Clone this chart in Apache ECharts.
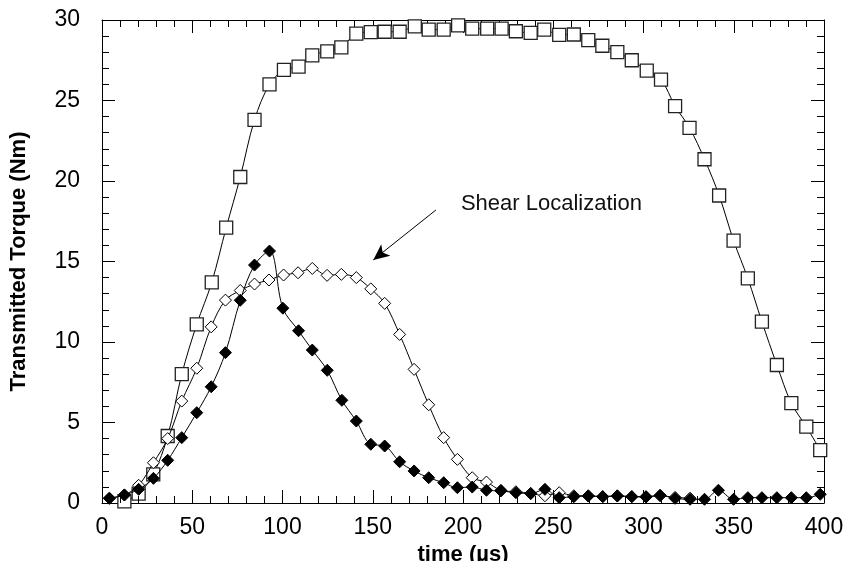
<!DOCTYPE html>
<html>
<head>
<meta charset="utf-8">
<script src="https://cdn.jsdelivr.net/npm/echarts@6/dist/echarts.min.js"></script>
<style>html,body{margin:0;padding:0;background:#fff;}#c{width:848px;height:561px;}</style>
</head>
<body>
<div id="c"></div>
<script>
// open squares
const squareX = [12.4, 20.3, 28.4, 36.4, 44.2, 52.5, 60.8, 68.8, 76.6, 84.5, 92.8, 100.8, 108.9, 116.5, 124.8, 132.6, 140.9, 148.9, 156.6, 164.9, 173.3, 181, 189.3, 197.3, 205.1, 213.4, 221.4, 229.3, 237.5, 245, 253.3, 261.4, 269.4, 277.2, 285.5, 293.5, 301.8, 309.7, 317.5, 325.5, 333.8, 341.9, 349.9, 357.8, 365.6, 373.9, 381.9, 390.2, 397.9];
const squareY = [0.1, 0.58, 1.78, 4.16, 8.0, 11.1, 13.7, 17.1, 20.25, 23.8, 26.0, 26.9, 27.1, 27.8, 28.05, 28.3, 29.15, 29.25, 29.27, 29.27, 29.6, 29.4, 29.4, 29.67, 29.46, 29.46, 29.46, 29.3, 29.2, 29.4, 29.07, 29.1, 28.75, 28.4, 28.0, 27.5, 26.85, 26.3, 24.65, 23.3, 21.35, 19.1, 16.3, 13.95, 11.26, 8.57, 6.2, 4.74, 3.29];
// open diamonds
const openDiaX = [4.1, 12.4, 20.3, 28.5, 36.4, 44.2, 52.5, 60.5, 68.4, 76.6, 84.5, 92.5, 100.6, 108.6, 116.5, 124.7, 132.6, 140.9, 148.9, 156.6, 164.9, 172.9, 181, 189.3, 196.9, 205.1, 213, 221, 229.3, 237.5, 245.4, 253.3, 261.4, 269.4, 277.4, 285.5, 293.5, 301.4, 309.2, 317.5, 325.8];
const openDiaY = [0.3, 0.5, 1.1, 2.5, 4.0, 6.33, 8.37, 10.94, 12.6, 13.2, 13.6, 13.85, 14.16, 14.3, 14.57, 14.14, 14.2, 14.0, 13.3, 12.4, 10.47, 8.3, 6.1, 4.06, 2.71, 1.57, 1.3, 0.79, 0.7, 0.6, 0.45, 0.64, 0.45, 0.45, 0.4, 0.45, 0.4, 0.4, 0.45, 0.35, 0.3];
// filled diamonds
const fillDiaX = [4.1, 12.4, 20.3, 28.5, 36.4, 44.2, 52.5, 60.5, 68.4, 76.6, 84.5, 92.8, 100.2, 108.9, 116.5, 124.8, 132.9, 140.9, 148.9, 156.6, 164.9, 172.9, 181, 189.3, 196.9, 205.1, 213, 221, 229.3, 237.5, 245.4, 253.3, 261.4, 269.4, 277.4, 285.5, 293.5, 301.4, 309.2, 317.5, 325.8, 333.8, 341.5, 349.9, 357.8, 365.6, 373.9, 381.9, 390.2, 397.9];
const fillDiaY = [0.29, 0.5, 0.85, 1.53, 2.65, 4.06, 5.61, 7.22, 9.34, 12.59, 14.78, 15.65, 12.1, 10.7, 9.5, 8.24, 6.38, 5.09, 3.65, 3.54, 2.56, 1.99, 1.57, 1.26, 0.95, 0.99, 0.79, 0.75, 0.64, 0.58, 0.85, 0.33, 0.39, 0.43, 0.39, 0.43, 0.39, 0.37, 0.48, 0.29, 0.23, 0.23, 0.79, 0.23, 0.33, 0.33, 0.33, 0.33, 0.33, 0.54];
// tick labels / annotation
const xTicks = [0, 50, 100, 150, 200, 250, 300, 350, 400];
const yTicks = [0, 5, 10, 15, 20, 25, 30];
const annotationText = 'Shear Localization';
const arrowFrom = [185, 18.2];
const arrowTo = [150.3, 15.1];
const annotationAt = [249, 18.6];

const zip = (xs, ys) => xs.map((x, i) => [x, ys[i]]);
const FONT = "'Liberation Sans', Arial, Helvetica, sans-serif";
const GRID = { left: 102, right: 24, top: 20, bottom: 58 };
const GRID_W = 848 - GRID.left - GRID.right;
const GRID_H = 561 - GRID.top - GRID.bottom;
const X_MAX = 400, Y_MAX = 30, MINOR = 5;
const MAJOR_LEN = 13, MINOR_LEN = 7;

// inside ticks for the bottom and left frame edges, placed through the chart's scales
function frameTicks() {
  const lines = [];
  const yPerPx = Y_MAX / GRID_H, xPerPx = X_MAX / GRID_W;
  for (let i = 0; i < xTicks.length - 1; i++) {
    const step = (xTicks[i + 1] - xTicks[i]) / MINOR;
    for (let k = 0; k < MINOR; k++) {
      const x = xTicks[i] + k * step;
      if (x === 0) continue;
      const len = (k === 0 ? MAJOR_LEN : MINOR_LEN) * yPerPx;
      lines.push([{ coord: [x, 0] }, { coord: [x, len] }]);
    }
  }
  for (let i = 0; i < yTicks.length - 1; i++) {
    const step = (yTicks[i + 1] - yTicks[i]) / MINOR;
    for (let k = 0; k < MINOR; k++) {
      const y = yTicks[i] + k * step;
      if (y === 0) continue;
      const len = (k === 0 ? MAJOR_LEN : MINOR_LEN) * xPerPx;
      lines.push([{ coord: [0, y] }, { coord: [len, y] }]);
    }
  }
  return lines;
}

// axis that only draws the frame line and inside ticks (top / right)
function tickAxis(pos, max, interval) {
  return {
    type: 'value', min: 0, max: max, interval: interval, position: pos,
    axisLine: { show: true, onZero: false, lineStyle: { color: '#000', width: 1 } },
    axisTick: { show: true, inside: true, length: MAJOR_LEN, lineStyle: { color: '#000', width: 1 } },
    minorTick: { show: true, splitNumber: MINOR, length: MINOR_LEN, lineStyle: { color: '#000', width: 1 } },
    splitLine: { show: false },
    axisLabel: { show: false }
  };
}
// axis that draws the labels and title (bottom / left)
function labelAxis(pos, max, interval, extra) {
  return Object.assign({
    type: 'value', min: 0, max: max, interval: interval, position: pos,
    axisLine: { show: true, onZero: false, lineStyle: { color: '#000', width: 1 } },
    axisTick: { show: false },
    minorTick: { show: false },
    splitLine: { show: false }
  }, extra);
}

const chart = echarts.init(document.getElementById('c'));
chart.setOption({
  animation: false,
  grid: Object.assign({ outerBoundsMode: 'none' }, GRID),
  xAxis: [
    labelAxis('bottom', X_MAX, 50, {
      name: 'time (µs)', nameLocation: 'middle', nameGap: 33,
      nameTextStyle: { fontFamily: FONT, fontWeight: 'bold', fontSize: 22, color: '#000' },
      axisLabel: { show: true, margin: 13, fontFamily: FONT, fontSize: 23, color: '#000',
        formatter: v => xTicks.includes(v) ? String(v) : '' }
    }),
    tickAxis('top', X_MAX, 50)
  ],
  yAxis: [
    labelAxis('left', Y_MAX, 5, {
      name: 'Transmitted Torque (Nm)', nameLocation: 'middle', nameGap: 72,
      nameTextStyle: { fontFamily: FONT, fontWeight: 'bold', fontSize: 22, color: '#000' },
      axisLabel: { show: true, margin: 22, fontFamily: FONT, fontSize: 23, color: '#000',
        formatter: v => yTicks.includes(v) ? String(v) : '' }
    }),
    tickAxis('right', Y_MAX, 5)
  ],
  series: [
    {
      type: 'line', xAxisIndex: 0, yAxisIndex: 0, data: zip(squareX, squareY), smooth: 0.35,
      symbol: 'rect', symbolSize: 13,
      lineStyle: { color: '#000', width: 1 },
      itemStyle: { color: '#fff', borderColor: '#222', borderWidth: 1.3 },
      z: 2,
      markLine: {
        silent: true, symbol: 'none', animation: false,
        label: { show: false },
        emphasis: { disabled: true },
        lineStyle: { color: '#000', width: 1, type: 'solid' },
        data: frameTicks()
      }
    },
    {
      type: 'line', xAxisIndex: 0, yAxisIndex: 0, data: zip(openDiaX, openDiaY), smooth: 0.35,
      symbol: 'diamond', symbolSize: 12,
      lineStyle: { color: '#000', width: 1 },
      itemStyle: { color: '#fff', borderColor: '#000', borderWidth: 1 },
      z: 3,
      markLine: {
        silent: true, symbol: ['none', 'arrow'], symbolSize: [11, 16],
        label: { show: false },
        lineStyle: { color: '#000', width: 1, type: 'solid' },
        data: [[{ coord: arrowFrom }, { coord: arrowTo }]]
      },
      markPoint: {
        silent: true, symbol: 'circle', symbolSize: 1,
        itemStyle: { color: 'rgba(0,0,0,0)' },
        label: { show: true, position: 'inside', fontFamily: FONT, fontSize: 22, color: '#111',
          formatter: annotationText },
        data: [{ coord: annotationAt }]
      }
    },
    {
      type: 'line', xAxisIndex: 0, yAxisIndex: 0, data: zip(fillDiaX, fillDiaY), smooth: 0.35,
      symbol: 'diamond', symbolSize: 12,
      lineStyle: { color: '#000', width: 1 },
      itemStyle: { color: '#000', borderColor: '#000', borderWidth: 1 },
      z: 4
    }
  ]
});
</script>
</body>
</html>
